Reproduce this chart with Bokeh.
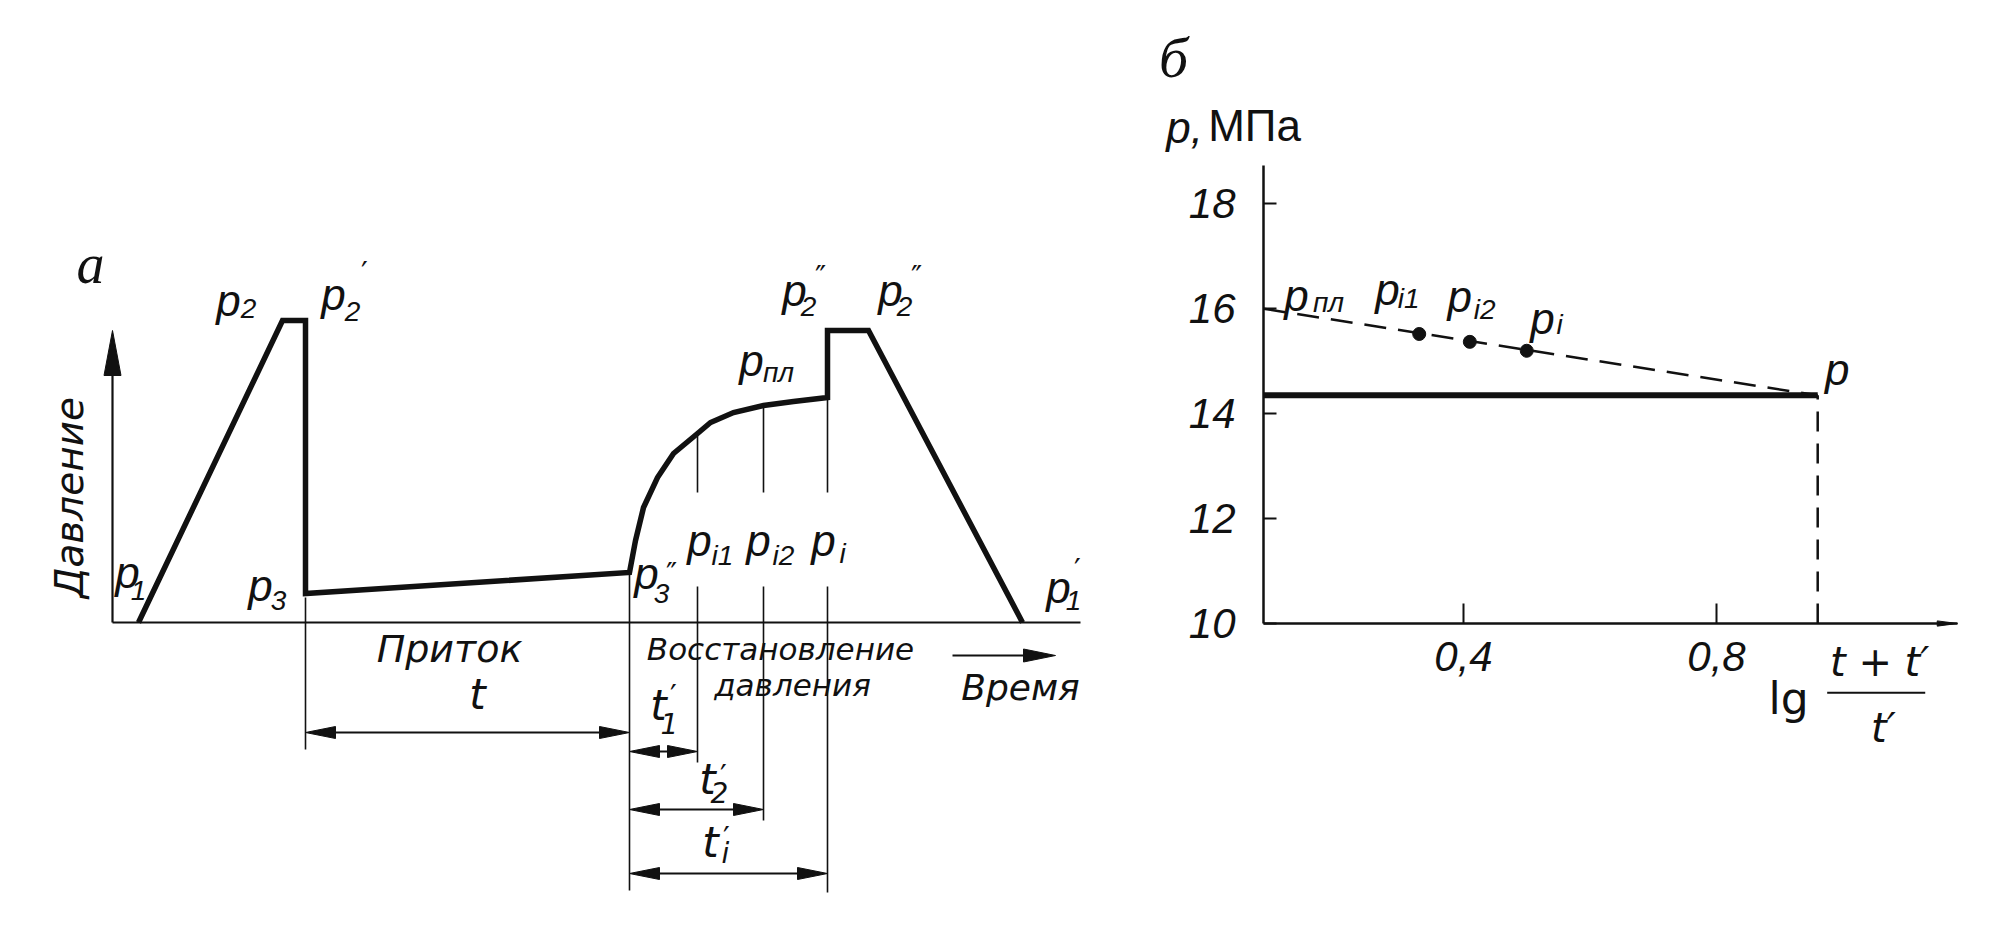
import math
from bokeh.plotting import figure
from bokeh.models import Range1d, Label, FixedTicker, Arrow, LinearAxis
from bokeh.embed import file_html
from bokeh.resources import INLINE

# ---------------- DATA ----------------
# panel a: schematic pressure history (arbitrary time / pressure units)
a_time = [2.6, 17.0, 19.3, 19.3, 51.7, 52.3, 53.1, 54.5, 56.1, 58.5, 59.8,
          62.1, 65.1, 68.1, 71.5, 71.5, 75.6, 91.0]
a_pressure = [0.0, 30.2, 30.2, 2.9, 5.0, 8.2, 11.5, 14.5, 16.9, 18.9, 20.0,
              21.0, 21.7, 22.1, 22.5, 29.2, 29.2, 0.0]
a_time_axis_end = 96.8
a_pressure_axis_end = 29.2
a_inflow_start = 19.3          # p3  (start of inflow, t)
a_shutin = 51.7                # p3'' (start of build-up)
a_marks = [58.5, 65.1, 71.5]   # t1', t2', ti'
a_marks_p = [18.9, 21.7, 22.5] # p_i1, p_i2, p_i

# panel b: p vs lg((t+t')/t')
b_x_ticks = [0.4, 0.8]
b_x_tick_labels = ["0,4", "0,8"]
b_y_ticks = [10, 12, 14, 16, 18]
b_lg_points = [0.33, 0.41, 0.50]
b_p_points = [15.52, 15.37, 15.20]
b_lg_line = [0.084, 0.96]
b_p_solid = [14.35, 14.35]
b_p_dashed = [16.0, 14.35]
b_lg_end = 0.96
b_p_end = 14.35
b_x_bounds = (0.0838, 1.181)
b_y_bounds = (10, 18.73)

# ---------------- STYLE ----------------
ITAL = "Liberation Sans"
SANS = "DejaVu Sans"
SERIF = "Liberation Serif"
INK = "#111111"
B = dict(x_range_name="bx", y_range_name="by")


def add_label(fig, x, y, text, size, font=ITAL, style="italic", dx=0, dy=0,
              angle=0.0, align="center", baseline="middle", panel_b=False):
    kw = B if panel_b else {}
    fig.add_layout(Label(x=x, y=y, text=text, x_offset=dx, y_offset=dy, angle=angle,
                         text_font=font, text_font_size=f"{size}px",
                         text_font_style=style, text_color=INK,
                         text_align=align, text_baseline=baseline, **kw))


def add_sym(fig, x, y, main="p", sub=None, sub_off=(18, -14), sup=None,
            sup_off=(24, 10), size=44, sub_size=28, sup_size=30, font=ITAL,
            panel_b=False):
    add_label(fig, x, y, main, size, font, panel_b=panel_b)
    if sub:
        add_label(fig, x, y, sub, sub_size, font, dx=sub_off[0], dy=sub_off[1],
                  panel_b=panel_b)
    if sup:
        add_label(fig, x, y, sup, sup_size, SANS, style="normal",
                  dx=sup_off[0], dy=sup_off[1], panel_b=panel_b)


def head(xt, yt, ux, uy, length, half):
    bx, by = xt - ux * length, yt - uy * length
    px, py = -uy * half, ux * half
    return [xt, bx + px, bx - px], [yt, by + py, by - py]


p = figure(width=1980, height=925, x_range=Range1d(-11.2, 186.8),
           y_range=Range1d(-30.3, 62.2), x_axis_location=None, y_axis_location=None,
           output_backend="svg", toolbar_location=None, min_border=0)
p.extra_x_ranges = {"bx": Range1d(-1.91304, 1.21739)}
p.extra_y_ranges = {"by": Range1d(4.2422, 21.878)}
p.grid.visible = False
p.outline_line_color = None
p.background_fill_color = "white"
p.border_fill_color = "white"

# ================= PANEL a =================
p.line([0, a_time_axis_end], [0, 0], line_color=INK, line_width=2.2)
p.line([0, 0], [0, a_pressure_axis_end - 3.5], line_color=INK, line_width=2.2)
hx, hy = head(0, a_pressure_axis_end, 0, 1, 4.5, 0.85)
p.patch(hx, hy, fill_color=INK, line_color=INK)

p.line(a_time, a_pressure, line_color=INK, line_width=5.5, line_join="miter")

seg_x = [a_inflow_start, a_shutin]
seg_y0 = [2.5, a_pressure[4]]
seg_y1 = [-12.7, -26.8]
bottoms = [-14.0, -19.8, -27.0]
for xm, pm, bt in zip(a_marks, a_marks_p, bottoms):
    seg_x += [xm, xm]
    seg_y0 += [pm, 3.6]
    seg_y1 += [13.0, bt]
p.segment(x0=seg_x, y0=seg_y0, x1=seg_x, y1=seg_y1, line_color=INK, line_width=1.6)

dims = [(a_inflow_start, a_shutin, -11.0)] + \
       [(a_shutin, xm, yy) for xm, yy in zip(a_marks, [-12.9, -18.7, -25.1])]
hxs, hys = [], []
for x0, x1, yy in dims:
    p.line([x0 + 1.0, x1 - 1.0], [yy, yy], line_color=INK, line_width=2)
    for xt, ux in ((x0, -1), (x1, 1)):
        a, b = head(xt, yy, ux, 0, 3.0, 0.6)
        hxs.append(a)
        hys.append(b)
p.line([84.0, 92.0], [-3.3, -3.3], line_color=INK, line_width=2)
a, b = head(94.3, -3.3, 1, 0, 3.2, 0.65)
hxs.append(a)
hys.append(b)
p.patches(hxs, hys, fill_color=INK, line_color=INK, line_width=1)

add_label(p, -2.2, 35.9, "а", 56, font=SERIF)
add_label(p, -4.3, 12.5, "Давление", 39, font=SANS, angle=math.pi / 2)
add_sym(p, 1.5, 5.0, sub="1", sub_off=(11, -18))
add_sym(p, 11.6, 32.2, sub="2", sub_off=(20, -8))
add_sym(p, 22.1, 32.8, sub="2", sub_off=(19, -17), sup="′", sup_off=(31, 22))
add_sym(p, 14.8, 3.7, sub="3", sub_off=(18, -15))
add_sym(p, 53.4, 4.9, sub="3", sub_off=(15, -20), sup="″", sup_off=(25, 0))
add_sym(p, 58.7, 8.2, sub="i1", sub_off=(23, -15))
add_sym(p, 64.6, 8.2, sub="i2", sub_off=(25, -15))
add_sym(p, 71.1, 8.2, sub="i", sub_off=(19, -13))
add_sym(p, 63.9, 26.2, sub="пл", sub_off=(27, -12))
add_sym(p, 68.2, 33.2, sub="2", sub_off=(14, -16), sup="″", sup_off=(26, 14))
add_sym(p, 77.8, 33.2, sub="2", sub_off=(14, -16), sup="″", sup_off=(26, 14))
add_sym(p, 94.6, 3.5, sub="1", sub_off=(15, -13), sup="′", sup_off=(19, 18))
add_label(p, 33.7, -2.6, "Приток", 38, font=SANS)
add_label(p, 36.5, -7.2, "t", 42, font=SANS)
add_label(p, 66.8, -2.6, "Восстановление", 31, font=SANS)
add_label(p, 68.0, -6.2, "давления", 31, font=SANS)
add_label(p, 90.8, -6.5, "Время", 36, font=SANS)
add_sym(p, 54.6, -8.3, main="t", sub="1", sub_off=(11, -18), sup="′", sup_off=(15, 10), font=SANS, size=42)
add_sym(p, 59.5, -15.7, main="t", sub="2", sub_off=(12, -13), sup="′", sup_off=(16, 4), font=SANS, size=42)
add_sym(p, 59.8, -22.0, main="t", sub="i", sub_off=(15, -11), sup="′", sup_off=(16, 5), font=SANS, size=42)

# ================= PANEL b =================
xb = LinearAxis(fixed_location=b_y_bounds[0], bounds=b_x_bounds,
                ticker=FixedTicker(ticks=b_x_ticks), **B)
xb.major_label_overrides = {t: s for t, s in zip(b_x_ticks, b_x_tick_labels)}
yb = LinearAxis(fixed_location=b_x_bounds[0], bounds=b_y_bounds,
                ticker=FixedTicker(ticks=b_y_ticks), **B)
for ax in (xb, yb):
    ax.axis_line_color = INK
    ax.axis_line_width = 2.5
    ax.major_tick_line_color = INK
    ax.major_tick_line_width = 2
    ax.major_tick_out = 0
    ax.minor_tick_line_color = None
    ax.major_label_text_font = ITAL
    ax.major_label_text_font_style = "italic"
    ax.major_label_text_font_size = "42px"
    ax.major_label_text_color = INK
xb.major_tick_in = 20
yb.major_tick_in = 13
xb.major_label_standoff = 18
yb.major_label_standoff = 28
p.add_layout(xb, "below")
p.add_layout(yb, "left")

# small wedge at the end of the lg axis
wx, wy = head(b_x_bounds[1], b_y_bounds[0], 1, 0, 0.032, 0.05)
p.patch(wx, wy, fill_color=INK, line_color=INK, **B)

p.line(b_lg_line, b_p_solid, line_color=INK, line_width=6, **B)
p.line(b_lg_line, b_p_dashed, line_color=INK, line_width=2.5, line_dash="22 12", **B)
p.line([b_lg_end, b_lg_end], [b_y_bounds[0], b_p_end], line_color=INK, line_width=2.5,
       line_dash="20 12", **B)
p.scatter(b_lg_points, b_p_points, size=13, fill_color=INK, line_color=INK, **B)

add_label(p, -0.0585, 20.79, "б", 58, font=SERIF, panel_b=True)
add_label(p, -0.041, 19.45, "p,", 44, panel_b=True)
add_label(p, 0.0696, 19.49, "МПа", 44, style="normal", panel_b=True)
add_sym(p, 0.136, 16.25, sub="пл", sub_off=(32, -7), panel_b=True)
add_sym(p, 0.280, 16.37, sub="i1", sub_off=(21, -9), panel_b=True)
add_sym(p, 0.394, 16.23, sub="i2", sub_off=(25, -13), panel_b=True)
add_sym(p, 0.525, 15.82, sub="i", sub_off=(17, -6), panel_b=True)
add_sym(p, 0.991, 14.84, panel_b=True)
add_label(p, 0.914, 8.57, "lg", 44, font=SANS, style="normal", panel_b=True)
add_label(p, 1.058, 9.26, "t + t′", 40, font=SANS, panel_b=True)
add_label(p, 1.064, 8.0, "t′", 40, font=SANS, panel_b=True)
p.add_layout(Arrow(start=None, end=None, x_start=0.975, y_start=8.68, x_end=1.130,
                   y_end=8.68, line_color=INK, line_width=2.2, **B))

open("out.html", "w").write(file_html(p, INLINE))
